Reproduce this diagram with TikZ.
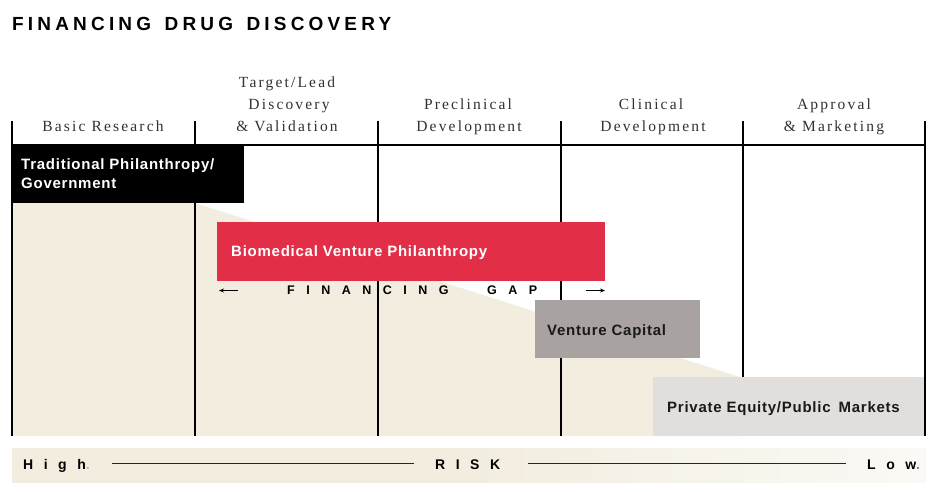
\documentclass[tikz,border=0pt]{standalone}
\usepackage{fontspec}
\setmainfont{Liberation Serif}
\newfontfamily\hdfont[LetterSpace=14]{Liberation Serif}
\newfontfamily\boxfont[LetterSpace=5]{Liberation Sans}
\newfontfamily\titlefont[LetterSpace=22]{Liberation Sans}
\newfontfamily\gapfont[LetterSpace=92]{Liberation Sans}
\newfontfamily\riskfont[LetterSpace=75]{Liberation Sans}
\usetikzlibrary{arrows.meta}
\definecolor{beige}{RGB}{242,237,223}
\definecolor{vpred}{RGB}{226,46,70}
\definecolor{vcgray}{RGB}{168,163,160}
\definecolor{pegray}{RGB}{226,222,220}
\definecolor{hdgray}{RGB}{50,50,50}
\pgfdeclarehorizontalshading{bandshade}{100bp}{color(0bp)=(beige); color(50bp)=(beige); color(86bp)=(white); color(100bp)=(white)}
\tikzset{
  hd/.style={anchor=base, inner sep=0pt, font=\hdfont\fontsize{15.5}{17}\selectfont, text=hdgray},
  boxtxt/.style={anchor=base west, inner sep=0pt, font=\boxfont\bfseries\fontsize{15}{18}\selectfont},
  titletxt/.style={anchor=base west, inner sep=0pt, font=\titlefont\bfseries\fontsize{19}{20}\selectfont},
  gridline/.style={line width=1.8pt, black},
  gaptxt/.style={anchor=base west, inner sep=0pt, font=\gapfont\bfseries\fontsize{12.5}{15}\selectfont},
  risktxt/.style={anchor=base west, inner sep=0pt, font=\riskfont\bfseries\fontsize{14}{16}\selectfont},
  gaparrow/.style={-{Stealth[length=5pt,width=4pt]}, line width=0.8pt},
  riskline/.style={line width=0.8pt, black!85},
}
\begin{document}
\begin{tikzpicture}[x=1pt,y=-1pt]
\useasboundingbox (0,0) rectangle (937,491);
\fill[white] (0,0) rectangle (937,491);
% beige risk area
\fill[beige] (12,203) -- (195,203) -- (743,378) -- (743,436) -- (12,436) -- cycle;
% grid
\draw[gridline] (12,145) -- (925,145);
\foreach \x in {12,195,378,561,743,925} {
  \draw[gridline] (\x,121) -- (\x,436);
}
% boxes
\fill[black] (11,145) rectangle (244,203);
\fill[vpred] (217,222) rectangle (605,281);
\fill[vcgray] (535,300) rectangle (700,358);
\fill[pegray] (653,377) rectangle (924,435.5);
% title
\node[titletxt] (title) at (12,30) {FINANCING\hspace{4pt} DRUG\hspace{4pt} DISCOVERY};
% headers
\node[hd] (h1) at (103,131) {Basic Research};
\node[hd] (h2a) at (287,87) {Target/Lead};
\node[hd] (h2b) at (289,109) {Discovery};
\node[hd] (h2c) at (287,131) {\& Validation};
\node[hd] (h3a) at (468,109) {Preclinical};
\node[hd] (h3b) at (469,131) {Development};
\node[hd] (h4a) at (651,109) {Clinical};
\node[hd] (h4b) at (653,131) {Development};
\node[hd] (h5a) at (834,109) {Approval};
\node[hd] (h5b) at (834,131) {\& Marketing};
% box texts
\node[boxtxt, text=white] (trad1) at (21,169) {Traditional Philanthropy/};
\node[boxtxt, text=white] (trad2) at (21,188) {Government};
\node[boxtxt, text=white] (bvp) at (231,256) {Biomedical Venture Philanthropy};
\node[boxtxt, text=black!90] (vc) at (547,335) {Venture Capital};
\node[boxtxt, text=black!90] (pe) at (667,412) {Private Equity/Public\hspace{3pt} Markets};
% financing gap
\node[gaptxt] (fin) at (287,294) {FINANCING};
\node[gaptxt] (gap) at (487,294) {GAP};
\coordinate (la1) at (238,290.5);
\coordinate (la2) at (219,290.5);
\coordinate (ra1) at (586,290.5);
\coordinate (ra2) at (605,290.5);
\draw[gaparrow] (la1) -- (la2);
\draw[gaparrow] (ra1) -- (ra2);
% risk band
\shade[shading=bandshade] (12,448) rectangle (926,482);
\node[risktxt] (high) at (23,469) {High{\color{black!30}.}};
\node[risktxt] (risk) at (435,469) {RISK};
\node[risktxt] (low) at (867,469) {Low{\color{black!50}.}};
\coordinate (rl1) at (112,463.5);
\coordinate (rl2) at (414,463.5);
\coordinate (rl3) at (528,463.5);
\coordinate (rl4) at (846,463.5);
\draw[riskline] (rl1) -- (rl2);
\draw[riskline] (rl3) -- (rl4);
\end{tikzpicture}
\end{document}
